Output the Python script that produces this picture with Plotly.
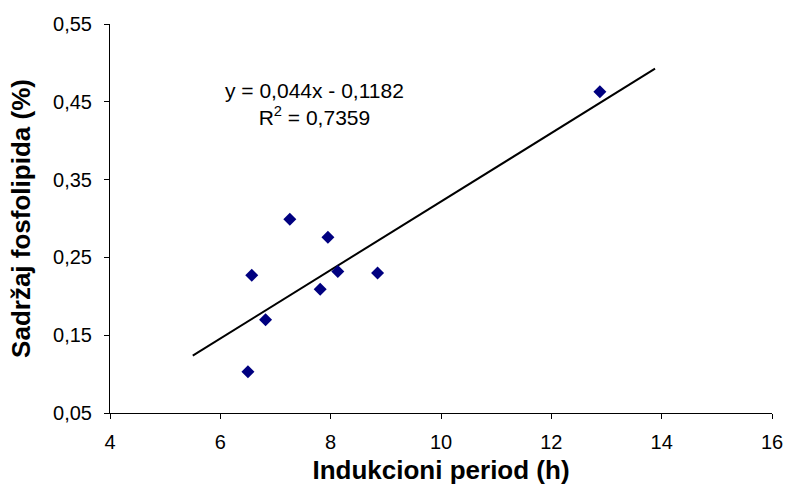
import plotly.graph_objects as go

# Induction period (h) vs. phospholipid content (%)
induction_h = [6.50, 6.57, 6.82, 7.26, 7.81, 7.95, 8.13, 8.85, 12.88]
phospholipid_pct = [0.103, 0.227, 0.170, 0.299, 0.209, 0.276, 0.232, 0.230, 0.463]

# Linear trendline as reported on the chart
slope = 0.044
intercept = -0.1182
r_squared = 0.7359
trend_x = [5.5, 13.88]
trend_y = [slope * x + intercept for x in trend_x]

x_ticks = [4, 6, 8, 10, 12, 14, 16]
y_ticks = [0.05, 0.15, 0.25, 0.35, 0.45, 0.55]

FONT = "Liberation Sans, Arial, sans-serif"

# plot area in pixels
plot_l, plot_r, plot_t, plot_b = 110, 772, 24, 413

fig = go.Figure()
fig.add_trace(go.Scatter(
    x=trend_x, y=trend_y, mode="lines",
    line=dict(color="black", width=2),
    hoverinfo="skip", showlegend=False,
))
fig.add_trace(go.Scatter(
    x=induction_h, y=phospholipid_pct, mode="markers",
    marker=dict(symbol="diamond", size=10, color="#000080",
                line=dict(width=0)),
    showlegend=False,
))

eq_text = (f"y = {slope:.3f}x - {abs(intercept):.4f}".replace(".", ",")
           + "<br>R<sup>2</sup> = " + f"{r_squared:.4f}".replace(".", ","))
fig.add_annotation(
    x=(314 - plot_l) / (plot_r - plot_l),
    y=(plot_b - 104) / (plot_b - plot_t),
    xref="paper", yref="paper", xanchor="center", yanchor="middle",
    text=eq_text, showarrow=False, align="center",
    font=dict(family=FONT, size=21, color="black"),
)

fig.update_layout(
    width=787, height=501,
    margin=dict(l=plot_l, r=787 - plot_r, t=plot_t, b=501 - plot_b),
    paper_bgcolor="white", plot_bgcolor="white",
    separators=",.",
    font=dict(family=FONT, size=20, color="black"),
)
fig.update_xaxes(
    range=[4, 16], tickvals=x_ticks, ticktext=[str(v) for v in x_ticks],
    showline=True, linecolor="black", linewidth=1,
    ticks="outside", ticklen=5, tickcolor="black",
    showgrid=False, zeroline=False, automargin=False,
    tickfont=dict(family=FONT, size=20),
    ticklabelstandoff=6,
    title=dict(text="<b>Indukcioni period (h)</b>", standoff=8,
               font=dict(family=FONT, size=26)),
)
fig.update_yaxes(
    range=[0.05, 0.55], tickvals=y_ticks, tickformat=".2f",
    showline=True, linecolor="black", linewidth=1,
    ticks="outside", ticklen=5, tickcolor="black",
    showgrid=False, zeroline=False, automargin=False,
    tickfont=dict(family=FONT, size=20),
    ticklabelstandoff=8,
    title=dict(text="<b>Sadržaj fosfolipida (%)</b>", standoff=14,
               font=dict(family=FONT, size=26)),
)

fig.write_html("out.html")
